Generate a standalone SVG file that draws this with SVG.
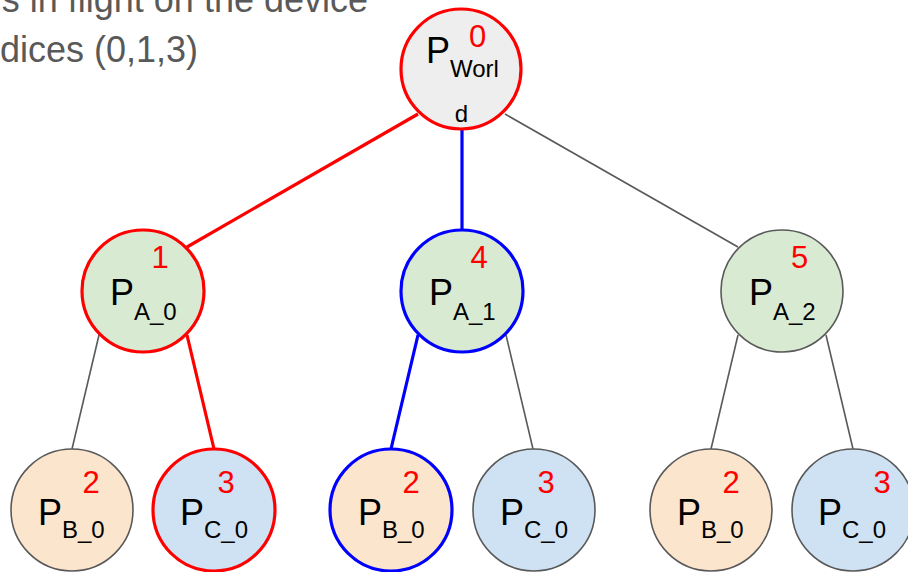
<svg xmlns="http://www.w3.org/2000/svg" width="908" height="572" viewBox="0 0 908 572">
  <style>
    .caption { font-family: "Liberation Sans", Arial, sans-serif; font-size: 36px; fill: #595959; }
    .lbl { font-family: "Liberation Sans", Arial, sans-serif; font-size: 36px; fill: #000000; }
    .sub { font-size: 24px; }
    .num { font-family: "Liberation Sans", Arial, sans-serif; font-size: 31px; fill: #ff0000; text-anchor: middle; }
    .edge-red { stroke: #ff0000; stroke-width: 3.2; fill: none; }
    .edge-blue { stroke: #0000ff; stroke-width: 3.2; fill: none; }
    .edge-gray { stroke: #595959; stroke-width: 1.6; fill: none; }
    .ring-red { stroke: #ff0000; stroke-width: 3.2; }
    .ring-blue { stroke: #0000ff; stroke-width: 3.2; }
    .ring-gray { stroke: #595959; stroke-width: 1.6; }
    .f-world { fill: #eeeeee; }
    .f-a { fill: #d9ead3; }
    .f-b { fill: #fce5cd; }
    .f-c { fill: #cfe2f3; }
  </style>
  <rect width="908" height="572" fill="#ffffff"/>

  <!-- caption text -->
  <g id="caption">
    <text class="caption" x="368" y="12" text-anchor="end">s in flight on the device</text>
    <text class="caption" x="198" y="62" text-anchor="end">dices (0,1,3)</text>
  </g>

  <!-- connectors -->
  <g id="connectors">
    <line class="edge-red" x1="418" y1="114" x2="187" y2="247"/>
    <line class="edge-blue" x1="462" y1="130" x2="462" y2="230"/>
    <line class="edge-gray" x1="505" y1="114" x2="738" y2="247"/>
    <line class="edge-gray" x1="99" y1="335" x2="72" y2="449"/>
    <line class="edge-red" x1="187" y1="335" x2="214" y2="449"/>
    <line class="edge-blue" x1="418" y1="335" x2="391" y2="449"/>
    <line class="edge-gray" x1="506" y1="335" x2="533" y2="449"/>
    <line class="edge-gray" x1="738" y1="335" x2="711" y2="449"/>
    <line class="edge-gray" x1="826" y1="335" x2="853" y2="449"/>
  </g>

  <!-- root -->
  <g id="p-world">
    <circle class="f-world ring-red" cx="461" cy="69" r="60"/>
    <text class="lbl" x="426" y="63">P<tspan class="sub" dy="14">Worl</tspan></text>
    <text class="lbl sub" x="461.5" y="122" text-anchor="middle">d</text>
    <text class="num" x="477.5" y="47">0</text>
  </g>

  <!-- level A -->
  <g id="p-a0">
    <circle class="f-a ring-red" cx="143" cy="291" r="61"/>
    <text class="lbl" x="110" y="305">P<tspan class="sub" dy="15">A_0</tspan></text>
    <text class="num" x="160" y="268">1</text>
  </g>
  <g id="p-a1">
    <circle class="f-a ring-blue" cx="462" cy="291" r="61"/>
    <text class="lbl" x="429" y="305">P<tspan class="sub" dy="15">A_1</tspan></text>
    <text class="num" x="479" y="268">4</text>
  </g>
  <g id="p-a2">
    <circle class="f-a ring-gray" cx="782" cy="291" r="61"/>
    <text class="lbl" x="749" y="305">P<tspan class="sub" dy="15">A_2</tspan></text>
    <text class="num" x="799.5" y="268">5</text>
  </g>

  <!-- level B / C under A_0 -->
  <g id="p-b0-a0">
    <circle class="f-b ring-gray" cx="72" cy="510" r="61"/>
    <text class="lbl" x="38" y="525">P<tspan class="sub" dy="13">B_0</tspan></text>
    <text class="num" x="91" y="493">2</text>
  </g>
  <g id="p-c0-a0">
    <circle class="f-c ring-red" cx="214" cy="510" r="61"/>
    <text class="lbl" x="180" y="525">P<tspan class="sub" dy="13">C_0</tspan></text>
    <text class="num" x="226" y="493">3</text>
  </g>

  <!-- under A_1 -->
  <g id="p-b0-a1">
    <circle class="f-b ring-blue" cx="391" cy="510" r="61"/>
    <text class="lbl" x="358" y="525">P<tspan class="sub" dy="13">B_0</tspan></text>
    <text class="num" x="411" y="493">2</text>
  </g>
  <g id="p-c0-a1">
    <circle class="f-c ring-gray" cx="534" cy="510" r="61"/>
    <text class="lbl" x="500" y="525">P<tspan class="sub" dy="13">C_0</tspan></text>
    <text class="num" x="546" y="493">3</text>
  </g>

  <!-- under A_2 -->
  <g id="p-b0-a2">
    <circle class="f-b ring-gray" cx="711" cy="510" r="61"/>
    <text class="lbl" x="677" y="525">P<tspan class="sub" dy="13">B_0</tspan></text>
    <text class="num" x="731" y="493">2</text>
  </g>
  <g id="p-c0-a2">
    <circle class="f-c ring-gray" cx="853" cy="510" r="61"/>
    <text class="lbl" x="818" y="525">P<tspan class="sub" dy="13">C_0</tspan></text>
    <text class="num" x="882" y="493">3</text>
  </g>
</svg>
